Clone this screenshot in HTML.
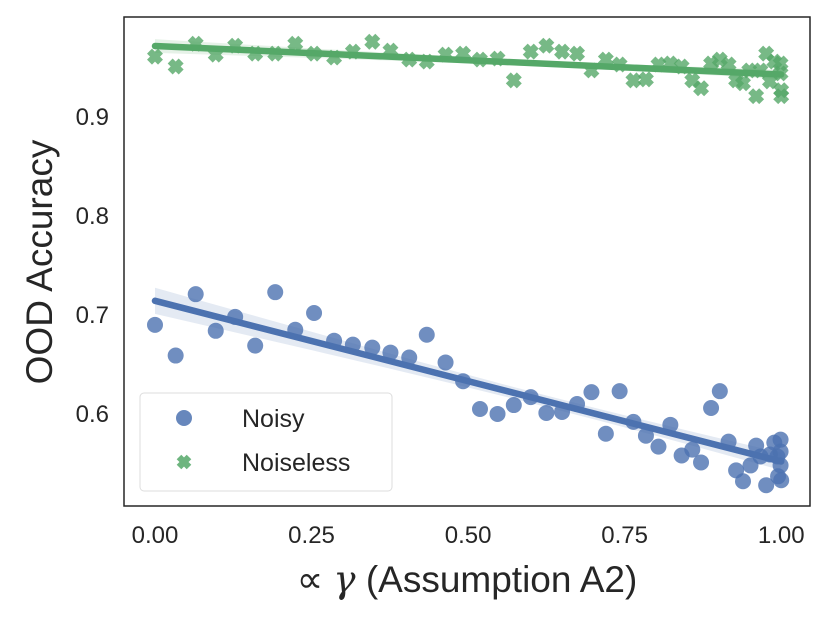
<!DOCTYPE html>
<html><head><meta charset="utf-8"><style>
body{margin:0;background:#fff;}
svg text{font-family:"Liberation Sans","DejaVu Sans",sans-serif;fill:#262626;}
</style></head><body>
<svg id="chart" width="830" height="623" xmlns="http://www.w3.org/2000/svg">
<g id="plot"></g>
<rect x="124" y="17" width="686" height="489" fill="none" stroke="#262626" stroke-width="1.5"/>
<g id="xticks"></g>
<g id="yticks"></g>
<text transform="translate(52,262) rotate(-90)" text-anchor="middle" font-size="37">OOD Accuracy</text>
<text x="467" y="592" text-anchor="middle" font-size="37">∝ <tspan font-style="italic" font-family="DejaVu Serif,serif">γ</tspan> (Assumption A2)</text>
<g>
<rect x="140" y="393" width="252" height="98" rx="4" fill="#fff" fill-opacity="0.8" stroke="#ddd" stroke-width="1"/>
<circle cx="184" cy="418" r="8" fill="#4c72b0" fill-opacity="0.85"/>
<text x="242" y="427" font-size="25">Noisy</text>
<path d="M179,457 L189,467 M189,457 L179,467" stroke="#55a868" stroke-opacity="0.85" stroke-width="6.5"/>
<text x="242" y="471" font-size="25">Noiseless</text>
</g>
</svg>
<script>
const xTicks=[0,0.25,0.5,0.75,1.0];
const xTickLabels=["0.00","0.25","0.50","0.75","1.00"];
const yTicks=[0.6,0.7,0.8,0.9];
const yTickLabels=["0.6","0.7","0.8","0.9"];
const noisyX=[0,.033,.065,.097,.128,.160,.192,.224,.254,.286,.316,.347,.376,.406,.434,.464,.492,.519,.547,.573,.600,.625,.650,.674,.697,.720,.742,.764,.784,.804,.823,.841,.858,.872,.888,.902,.916,.928,.939,.951,.960,.967,.976,.982,.989,.994,.999,.999,.995,1.0,.999];
const noisyY=[.689,.658,.720,.683,.697,.668,.722,.684,.701,.673,.669,.666,.661,.656,.679,.651,.632,.604,.599,.608,.616,.600,.601,.609,.621,.579,.622,.591,.577,.566,.588,.557,.563,.550,.605,.622,.571,.542,.531,.547,.567,.556,.527,.558,.570,.556,.573,.547,.536,.532,.561];
const cleanX=[0,.033,.065,.097,.128,.160,.192,.224,.254,.286,.316,.347,.376,.406,.434,.464,.492,.519,.547,.573,.600,.625,.650,.674,.697,.720,.742,.764,.784,.804,.823,.841,.858,.872,.888,.902,.916,.928,.939,.949,.960,.967,.976,.982,.989,.999,.999,1.0,1.0];
const cleanY=[.960,.950,.973,.962,.971,.963,.963,.973,.963,.959,.965,.975,.966,.957,.955,.962,.963,.957,.958,.936,.965,.971,.965,.963,.946,.957,.952,.936,.937,.952,.953,.950,.936,.928,.953,.957,.952,.936,.933,.946,.920,.946,.963,.935,.955,.953,.943,.926,.920];

const NS="http://www.w3.org/2000/svg";
const X0=124,X1=810,Y0=506,Y1=17;
const xmin=-0.0495,xmax=1.046,ymin=0.506,ymax=1.0;
function sx(v){return X0+(v-xmin)/(xmax-xmin)*(X1-X0);}
function sy(v){return Y0-(v-ymin)/(ymax-ymin)*(Y0-Y1);}
function mk(tag,attrs,parent){const e=document.createElementNS(NS,tag);for(const k in attrs)e.setAttribute(k,attrs[k]);parent.appendChild(e);return e;}
const plot=document.getElementById('plot');
const xt=document.getElementById('xticks'),yt=document.getElementById('yticks');
xTicks.forEach((v,i)=>{const t=mk('text',{x:sx(v),y:543,'text-anchor':'middle','font-size':'24'},xt);t.textContent=xTickLabels[i];

});
yTicks.forEach((v,i)=>{const t=mk('text',{x:109,y:sy(v)+9,'text-anchor':'end','font-size':'24'},yt);t.textContent=yTickLabels[i];

});

function fit(xs,ys){const n=xs.length;let mx=0,my=0;for(let i=0;i<n;i++){mx+=xs[i];my+=ys[i];}mx/=n;my/=n;let sxy=0,sxx=0;for(let i=0;i<n;i++){sxy+=(xs[i]-mx)*(ys[i]-my);sxx+=(xs[i]-mx)**2;}const b=sxy/sxx;const a=my-b*mx;let sse=0;for(let i=0;i<n;i++)sse+=(ys[i]-a-b*xs[i])**2;const s=Math.sqrt(sse/(n-2));return{a,b,s,mx,sxx,n};}
function band(f,color,name){const pts=[],lo=[];for(let k=0;k<=40;k++){const x=k/40;const se=f.s*Math.sqrt(1/f.n+(x-f.mx)**2/f.sxx)*2;const y=f.a+f.b*x;pts.push(sx(x)+','+sy(y+se));lo.push(sx(x)+','+sy(y-se));}
const p=mk('polygon',{points:pts.concat(lo.reverse()).join(' '),fill:color,'fill-opacity':'0.15'},plot);


const l=mk('line',{x1:sx(0),y1:sy(f.a),x2:sx(1),y2:sy(f.a+f.b),stroke:color,'stroke-width':'6.5','stroke-linecap':'round'},plot);

}
const fn=fit(noisyX,noisyY),fc=fit(cleanX,cleanY);
noisyX.forEach((x,i)=>{const c=mk('circle',{cx:sx(x),cy:sy(noisyY[i]),r:8,fill:'#4c72b0','fill-opacity':'0.8'},plot);

});
cleanX.forEach((x,i)=>{const cx=sx(x),cy=sy(cleanY[i]),d=5.5;const p=mk('path',{d:`M${cx-d},${cy-d}L${cx+d},${cy+d}M${cx+d},${cy-d}L${cx-d},${cy+d}`,stroke:'#55a868','stroke-opacity':'0.8','stroke-width':'7'},plot);

});
band(fn,'#4c72b0','noisy');
band(fc,'#55a868','noiseless');
</script>
</body></html>
